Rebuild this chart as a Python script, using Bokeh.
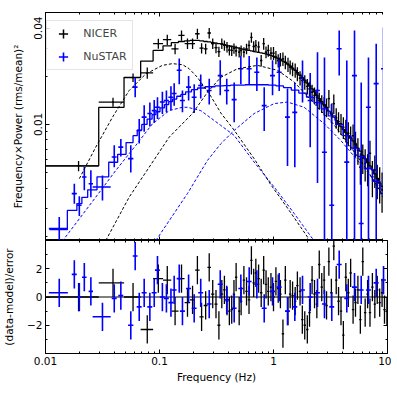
import numpy as np
from bokeh.plotting import figure
from bokeh.models import (Range1d, LogAxis, LinearAxis, FixedTicker, CustomJSTickFormatter,
                          Legend, LegendItem, Span)
from bokeh.layouts import column
from bokeh.embed import file_html
from bokeh.resources import INLINE

# ---------------- NICER (black) ----------------
nicer_f = [0.0195, 0.0391, 0.0586, 0.0781, 0.0977, 0.117, 0.137, 0.156, 0.176, 0.195,
           0.215, 0.234, 0.254, 0.273, 0.293, 0.313, 0.332, 0.352, 0.371, 0.391,
           0.41, 0.43, 0.45, 0.47, 0.50, 0.52, 0.55, 0.58, 0.61, 0.64,
           0.67, 0.70, 0.74, 0.78, 0.82, 0.86, 0.90, 0.95, 1.00, 1.05,
           1.10, 1.15, 1.21, 1.27, 1.34, 1.40, 1.47, 1.55, 1.62, 1.71,
           1.79, 1.88, 1.98, 2.07, 2.18, 2.29, 2.40, 2.52, 2.65, 2.78,
           2.92, 3.06, 3.22, 3.38, 3.55, 3.72, 3.91, 4.10, 4.31, 4.53,
           4.75, 4.99, 5.24, 5.50, 5.78, 6.07, 6.37, 6.69, 7.02, 7.37,
           7.74, 8.13, 8.54, 8.96, 9.41, 9.88]
nicer_xerr = [0.0098, 0.0098, 0.0098, 0.0098, 0.0098, 0.0098, 0.0098, 0.0098, 0.0098, 0.0098,
              0.0098, 0.0098, 0.0098, 0.0098, 0.0098, 0.0098, 0.0098, 0.0098, 0.0098, 0.0098,
              0.010, 0.010, 0.011, 0.011, 0.012, 0.012, 0.013, 0.014, 0.015, 0.015,
              0.016, 0.017, 0.018, 0.019, 0.020, 0.021, 0.022, 0.023, 0.024, 0.025,
              0.026, 0.028, 0.029, 0.030, 0.032, 0.034, 0.035, 0.037, 0.039, 0.041,
              0.043, 0.045, 0.048, 0.050, 0.052, 0.055, 0.058, 0.060, 0.064, 0.067,
              0.070, 0.073, 0.077, 0.081, 0.085, 0.089, 0.094, 0.098, 0.103, 0.109,
              0.114, 0.120, 0.126, 0.132, 0.139, 0.146, 0.153, 0.161, 0.168, 0.177,
              0.186, 0.195, 0.205, 0.215, 0.226, 0.237]
nicer_pow = [0.0055, 0.0138, 0.0196, 0.0210, 0.0320, 0.0339, 0.0297, 0.0360, 0.0320, 0.0320,
             0.0369, 0.0300, 0.0297, 0.0373, 0.0320, 0.0302, 0.0285, 0.0320, 0.0312, 0.0305,
             0.0292, 0.0290, 0.0299, 0.0288, 0.0283, 0.0290, 0.0283, 0.0297, 0.0312, 0.0350,
             0.0307, 0.0312, 0.0305, 0.0251, 0.0320, 0.0283, 0.0290, 0.0279, 0.0279, 0.0263,
             0.0251, 0.0255, 0.0257, 0.0245, 0.0237, 0.0228, 0.0222, 0.0218, 0.0207, 0.0195,
             0.0188, 0.0184, 0.0173, 0.0167, 0.0159, 0.0152, 0.0148, 0.0141, 0.0135, 0.0131,
             0.0128, 0.0145, 0.0118, 0.0135, 0.0110, 0.0104, 0.0101, 0.0096, 0.0092, 0.0088,
             0.0083, 0.0085, 0.0076, 0.0069, 0.0054, 0.0062, 0.0057, 0.0053, 0.0066, 0.0047,
             0.0052, 0.0045, 0.0043, 0.0039, 0.0035, 0.0030]
nicer_err = [0.0004, 0.0009, 0.0012, 0.0017, 0.0023, 0.0025, 0.0022, 0.0026, 0.0024, 0.0024,
             0.0027, 0.0022, 0.0022, 0.0028, 0.0024, 0.0023, 0.0021, 0.0024, 0.0023, 0.0023,
             0.0022, 0.0022, 0.0022, 0.0022, 0.0021, 0.0022, 0.0021, 0.0022, 0.0023, 0.0026,
             0.0024, 0.0025, 0.0025, 0.0021, 0.0027, 0.0024, 0.0025, 0.0025, 0.0026, 0.0025,
             0.0024, 0.0025, 0.0025, 0.0024, 0.0024, 0.0023, 0.0022, 0.0022, 0.0021, 0.0020,
             0.0020, 0.0019, 0.0019, 0.0018, 0.0018, 0.0018, 0.0017, 0.0017, 0.0017, 0.0017,
             0.0017, 0.0019, 0.0016, 0.0019, 0.0016, 0.0015, 0.0015, 0.0015, 0.0015, 0.0015,
             0.0014, 0.0015, 0.0014, 0.0013, 0.0012, 0.0013, 0.0013, 0.0012, 0.0013, 0.0012,
             0.0012, 0.0011, 0.0011, 0.0011, 0.0010, 0.0010]
nicer_model = [0.0055, 0.0128, 0.0197, 0.0249, 0.0290, 0.0310, 0.0325, 0.0330, 0.0333, 0.0335,
               0.0335, 0.0333, 0.0330, 0.0328, 0.0325, 0.0322, 0.0320, 0.0318, 0.0315, 0.0312,
               0.0310, 0.0307, 0.0305, 0.0302, 0.0300, 0.0297, 0.0295, 0.0292, 0.0290, 0.0288,
               0.0286, 0.0284, 0.0282, 0.0280, 0.0278, 0.0276, 0.0273, 0.0270, 0.0266, 0.0262,
               0.0258, 0.0254, 0.0249, 0.0244, 0.0238, 0.0232, 0.0225, 0.0218, 0.0211, 0.0203,
               0.0196, 0.0189, 0.0181, 0.0174, 0.0167, 0.0160, 0.0152, 0.0145, 0.0139, 0.0133,
               0.0127, 0.0121, 0.0116, 0.0111, 0.0106, 0.0101, 0.0097, 0.0093, 0.0089, 0.0085,
               0.0082, 0.0079, 0.0075, 0.0071, 0.0068, 0.0064, 0.0061, 0.0058, 0.0055, 0.0052,
               0.0049, 0.0046, 0.0043, 0.0041, 0.0038, 0.0036]
nicer_resid = [0.0, 1.0, 0.0, -2.3, 1.3, 1.2, -1.0, 1.3, -0.4, -0.2,
               1.9, -1.4, -0.6, 2.1, 0.2, -0.5, -2.0, 0.2, 0.5, -0.3,
               -1.0, -0.9, 0.2, 1.4, -1.0, -0.3, 1.2, 0.4, -0.2, 2.6,
               1.0, 1.7, 1.3, 0.3, 1.9, 0.9, 0.4, 0.7, 0.0, 1.1,
               0.6, 0.2, -2.6, 1.2, -1.0, 0.2, 0.1, -0.3, 0.8, 0.4,
               -1.6, -2.0, -2.3, -1.1, 1.2, 0.2, -0.5, 2.3, 0.7, 1.2,
               -0.6, 2.5, 0.3, 3.6, 1.2, -0.3, -1.0, -2.7, 1.4, 0.3,
               1.7, -0.9, -0.4, 0.5, -1.6, 2.5, -1.1, 0.2, -1.1, 0.7,
               -0.5, 0.5, -0.4, 0.3, -0.9, -1.0]

# NICER model components (dashed black)
nicer_lor1_f = [0.0198, 0.0276, 0.0387, 0.0542, 0.0759, 0.106, 0.130, 0.160, 0.182, 0.215,
                0.282, 0.345, 0.452, 0.677, 0.947, 1.327, 1.919, 2.20]
nicer_lor1_p = [0.00458, 0.00721, 0.0111, 0.0163, 0.0207, 0.0234, 0.0240, 0.0236, 0.0223, 0.0197,
                0.0150, 0.0118, 0.0092, 0.0061, 0.0042, 0.0030, 0.00205, 0.00178]
nicer_lor2_f = [0.0338, 0.0542, 0.0813, 0.1217, 0.1946, 0.2636, 0.345, 0.483, 0.724, 1.084,
                1.52, 1.988, 2.43, 3.34, 4.76, 6.67, 8.73, 10.0]
nicer_lor2_p = [0.00188, 0.00351, 0.00541, 0.00833, 0.0117, 0.0159, 0.0197, 0.0223, 0.0234, 0.0218,
                0.0184, 0.0150, 0.0128, 0.0101, 0.00721, 0.00516, 0.00377, 0.0031]

# ---------------- NuSTAR (blue) ----------------
nustar_f = [0.0132, 0.0179, 0.0198, 0.0219, 0.0250, 0.0316, 0.0401, 0.0458, 0.0560, 0.0612,
            0.0664, 0.0734, 0.0823, 0.0899, 0.0960, 0.106, 0.115, 0.126, 0.1345, 0.149,
            0.159, 0.180, 0.2015, 0.230, 0.273, 0.341, 0.389, 0.452, 0.517, 0.612,
            0.7145, 0.829, 0.981, 1.122, 1.327, 1.538, 1.797, 2.099, 2.432, 2.80,
            3.245, 3.77, 4.395, 5.136, 5.88, 6.81, 7.96, 9.23]
nustar_xerr = [0.0025, 0.0009, 0.0009, 0.0010, 0.0011, 0.0057, 0.0020, 0.0023, 0.0030, 0.0030,
               0.0033, 0.0037, 0.0041, 0.0045, 0.0048, 0.0053, 0.0058, 0.0063, 0.0067, 0.0074,
               0.0080, 0.0090, 0.0100, 0.0115, 0.0136, 0.017, 0.0195, 0.0226, 0.026, 0.031,
               0.036, 0.041, 0.049, 0.056, 0.066, 0.077, 0.090, 0.105, 0.120, 0.140,
               0.160, 0.190, 0.220, 0.260, 0.290, 0.340, 0.400, 0.460]
nustar_pow = [0.00223, 0.00369, 0.00312, 0.00469, 0.00426, 0.00406, 0.00625, 0.00721, 0.00611, 0.0171,
              0.00917, 0.0111, 0.0117, 0.0122, 0.0128, 0.0138, 0.0141, 0.0148, 0.0156, 0.0218,
              0.0141, 0.0171, 0.0148, 0.0175, 0.0163, 0.0202, 0.0163, 0.0143, 0.0223, 0.0223,
              0.0212, 0.0131, 0.0202, 0.0212, 0.0111, 0.0119, 0.0194, 0.0141, 0.0163, 0.0067,
              0.00312, 0.0297, 0.00581, 0.0202, 0.0024, 0.0128, 0.0180, 0.0223]
# lower / upper ends of the error bars (0.0005 = bar runs off the bottom of the panel)
nustar_lo = [0.00185, 0.00319, 0.00268, 0.00387, 0.00351, 0.00335, 0.0054, 0.0063, 0.0050, 0.0148,
             0.0076, 0.0090, 0.0097, 0.0102, 0.0108, 0.0116, 0.0119, 0.0123, 0.0131, 0.0178,
             0.0119, 0.0141, 0.0118, 0.0145, 0.0133, 0.0152, 0.0133, 0.0103, 0.0178, 0.0178,
             0.0162, 0.0091, 0.0152, 0.0162, 0.0055, 0.0054, 0.0137, 0.0072, 0.0043, 0.0005,
             0.0005, 0.0202, 0.0005, 0.0005, 0.0005, 0.0005, 0.0005, 0.0040]
nustar_hi = [0.00264, 0.00426, 0.00356, 0.00541, 0.00516, 0.00480, 0.0074, 0.0081, 0.0074, 0.0197,
             0.0108, 0.0132, 0.0137, 0.0142, 0.0148, 0.0160, 0.0163, 0.0173, 0.0181, 0.0258,
             0.0163, 0.0201, 0.0178, 0.0205, 0.0193, 0.0252, 0.0193, 0.0183, 0.0268, 0.0268,
             0.0262, 0.0171, 0.0252, 0.0262, 0.0168, 0.0182, 0.0251, 0.0210, 0.0283, 0.0262,
             0.0135, 0.0387, 0.0251, 0.0387, 0.0183, 0.0262, 0.0320, 0.0404]
nustar_model = [0.0022, 0.0029, 0.0032, 0.0035, 0.0039, 0.0047, 0.0058, 0.0065, 0.0077, 0.0085,
                0.0092, 0.0100, 0.0108, 0.0115, 0.0120, 0.0127, 0.0133, 0.0139, 0.0144, 0.0150,
                0.0154, 0.0160, 0.0165, 0.0169, 0.0172, 0.0174, 0.0175, 0.0176, 0.0176, 0.0177,
                0.0177, 0.0177, 0.0176, 0.0174, 0.0170, 0.0164, 0.0157, 0.0148, 0.0137, 0.0125,
                0.0113, 0.0100, 0.0085, 0.0071, 0.0063, 0.0053, 0.0044, 0.0037]
nustar_resid = [0.3, 1.6, 0.0, 1.4, 0.4, -1.4, -0.1, 0.1, -2.0, 2.9,
                -0.7, 0.3, -0.7, 0.3, 1.9, 0.0, -0.1, -0.4, 0.5, 1.3,
                -1.0, 0.6, -0.8, 0.3, -0.5, 0.9, -0.2, -0.8, 0.6, 1.1,
                0.9, -0.8, 0.4, 0.7, -1.0, -0.7, 0.5, 0.0, 0.3, -0.5,
                -0.7, 2.3, -0.1, 0.7, 0.5, 0.5, 1.0, 1.2]

# NuSTAR model components (dashed blue)
nustar_lor1_f = [0.0132, 0.01614, 0.0276, 0.0414, 0.0620, 0.0868, 0.1217, 0.1591, 0.1761, 0.2303,
                 0.345, 0.452, 0.677, 1.014, 1.52, 2.199, 2.35]
nustar_lor1_p = [0.00176, 0.00212, 0.00351, 0.00516, 0.0074, 0.0101, 0.0122, 0.0128, 0.0128, 0.0122,
                 0.00986, 0.00854, 0.00581, 0.00406, 0.00277, 0.00193, 0.0018]
nustar_lor2_f = [0.0929, 0.1761, 0.2636, 0.345, 0.452, 0.677, 1.014, 1.327, 1.858, 2.786,
                 3.89, 5.455, 7.64, 9.04, 10.0]
nustar_lor2_p = [0.00188, 0.0037, 0.00596, 0.00757, 0.00917, 0.0117, 0.0135, 0.0138, 0.0128, 0.0101,
                 0.00794, 0.00596, 0.00447, 0.00387, 0.0035]

# axis ticks
x_major = [0.01, 0.1, 1, 10]
x_minor = [k * d for d in (0.01, 0.1, 1) for k in range(2, 10)]
y_major = [0.01, 0.04]
y_minor = [0.002, 0.003, 0.004, 0.005, 0.006, 0.007, 0.008, 0.009, 0.02, 0.03, 0.05]
r_major = [-2, 0, 2]
r_minor = [-3, -1, 1, 3]

FONT = "DejaVu Sans"
FS = "10.5px"
BLACK = "black"
BLUE = "#0000ff"


def step_path(f, m):
    f = np.asarray(f, dtype=float)
    m = np.asarray(m, dtype=float)
    mids = (f[:-1] + f[1:]) / 2
    edges = np.concatenate([[f[0] - (f[1] - f[0]) / 2], mids, [f[-1] + (f[-1] - f[-2]) / 2]])
    xs = np.repeat(edges, 2)[1:-1]
    ys = np.repeat(m, 2)
    return xs, ys


blank_fmt = CustomJSTickFormatter(code="return '';")


def style_axis(ax, labels=True):
    ax.major_tick_in = 4
    ax.major_tick_out = 0
    ax.minor_tick_in = 2
    ax.minor_tick_out = 0
    ax.axis_line_color = BLACK
    ax.major_tick_line_color = BLACK
    ax.minor_tick_line_color = BLACK
    ax.major_label_text_font = FONT
    ax.major_label_text_font_size = FS
    ax.major_label_text_color = BLACK
    ax.axis_label_text_font = FONT
    ax.axis_label_text_font_size = FS
    ax.axis_label_text_font_style = "normal"
    ax.axis_label_text_color = BLACK
    ax.major_label_standoff = 3
    if not labels:
        ax.formatter = blank_fmt
        ax.major_label_text_font_size = "1px"
        ax.major_label_standoff = 0


xfmt = CustomJSTickFormatter(code="return tick >= 1 ? tick.toFixed(0) : tick.toString();")
yfmt = CustomJSTickFormatter(code="return tick.toFixed(2);")

x_range = Range1d(0.01, 10)

# ---------------- top panel ----------------
p1 = figure(x_axis_type="log", y_axis_type="log", x_range=x_range,
            y_range=Range1d(0.00188, 0.0501),
            frame_width=342, frame_height=228, output_backend="svg", toolbar_location=None,
            min_border_left=35, min_border_right=4, min_border_top=12, min_border_bottom=0)
p1.grid.grid_line_color = None
p1.outline_line_color = BLACK
p1.background_fill_color = "white"

p1.xaxis[0].ticker = FixedTicker(ticks=x_major, minor_ticks=x_minor)
style_axis(p1.xaxis[0], labels=False)
p1.yaxis[0].ticker = FixedTicker(ticks=y_major, minor_ticks=y_minor)
style_axis(p1.yaxis[0])
p1.yaxis[0].formatter = yfmt
p1.yaxis[0].major_label_orientation = "vertical"
p1.yaxis[0].axis_label = "Frequency×Power (rms/mean)²"
p1.yaxis[0].axis_label_standoff = 8

ax_top = LogAxis(ticker=FixedTicker(ticks=x_major, minor_ticks=x_minor))
style_axis(ax_top, labels=False)
p1.add_layout(ax_top, "above")
ax_right = LogAxis(ticker=FixedTicker(ticks=y_major, minor_ticks=y_minor))
style_axis(ax_right, labels=False)
p1.add_layout(ax_right, "right")

nf = np.array(nicer_f); npw = np.array(nicer_pow); ne = np.array(nicer_err); nxe = np.array(nicer_xerr)
uf = np.array(nustar_f); upw = np.array(nustar_pow); uxe = np.array(nustar_xerr)

# NICER data
p1.segment(nf, npw - ne, nf, npw + ne, line_color=BLACK, line_width=1.3)
p1.segment(nf - nxe, npw, nf + nxe, npw, line_color=BLACK, line_width=1.3)
nicer_pts = p1.scatter(nf, npw, marker="cross", size=1, line_color=BLACK, line_width=1.5)
# NuSTAR data
p1.segment(uf, np.array(nustar_lo), uf, np.array(nustar_hi), line_color=BLUE, line_width=1.6)
p1.segment(uf - uxe, upw, uf + uxe, upw, line_color=BLUE, line_width=1.6)
nustar_pts = p1.scatter(uf, upw, marker="cross", size=1, line_color=BLUE, line_width=1.6)

# models
sx, sy = step_path(nicer_f, nicer_model)
p1.line(sx, sy, line_color=BLACK, line_width=1.3)
sx, sy = step_path(nustar_f, nustar_model)
p1.line(sx, sy, line_color=BLUE, line_width=1.3)
p1.line(nicer_lor1_f, nicer_lor1_p, line_color=BLACK, line_width=1, line_dash="3 2")
p1.line(nicer_lor2_f, nicer_lor2_p, line_color=BLACK, line_width=1, line_dash="3 2")
p1.line(nustar_lor1_f, nustar_lor1_p, line_color=BLUE, line_width=1, line_dash="3 2")
p1.line(nustar_lor2_f, nustar_lor2_p, line_color=BLUE, line_width=1, line_dash="3 2")

legend = Legend(items=[LegendItem(label="NICER", renderers=[nicer_pts]),
                       LegendItem(label="NuSTAR", renderers=[nustar_pts])],
                location="top_left", margin=8, padding=1, spacing=-6,
                glyph_width=30, glyph_height=23, label_height=23, label_width=48,
                label_standoff=5, label_text_font=FONT, label_text_font_size="11px",
                border_line_color="#cccccc", border_line_width=1,
                background_fill_color="white", background_fill_alpha=0.8)
p1.add_layout(legend)

# ---------------- residual panel ----------------
p2 = figure(x_axis_type="log", x_range=x_range, y_range=Range1d(-4, 4),
            frame_width=342, frame_height=113, output_backend="svg", toolbar_location=None,
            min_border_left=35, min_border_right=4, min_border_top=0, min_border_bottom=2)
p2.grid.grid_line_color = None
p2.outline_line_color = BLACK
p2.background_fill_color = "white"

p2.xaxis[0].ticker = FixedTicker(ticks=x_major, minor_ticks=x_minor)
style_axis(p2.xaxis[0])
p2.xaxis[0].formatter = xfmt
p2.xaxis[0].axis_label = "Frequency (Hz)"
p2.xaxis[0].axis_label_standoff = 3
p2.yaxis[0].ticker = FixedTicker(ticks=r_major, minor_ticks=r_minor)
style_axis(p2.yaxis[0])
p2.yaxis[0].axis_label = "(data-model)/error"
p2.yaxis[0].axis_label_standoff = 9

ax_top2 = LogAxis(ticker=FixedTicker(ticks=x_major, minor_ticks=x_minor))
style_axis(ax_top2, labels=False)
p2.add_layout(ax_top2, "above")
ax_right2 = LinearAxis(ticker=FixedTicker(ticks=r_major, minor_ticks=r_minor))
style_axis(ax_right2, labels=False)
p2.add_layout(ax_right2, "right")

p2.add_layout(Span(location=0, dimension="width", line_color=BLACK, line_width=1, level="underlay"))

nr = np.array(nicer_resid); ur = np.array(nustar_resid)
p2.segment(nf, nr - 1, nf, nr + 1, line_color=BLACK, line_width=1.3)
p2.segment(nf - nxe, nr, nf + nxe, nr, line_color=BLACK, line_width=1.3)
p2.segment(uf, ur - 1, uf, ur + 1, line_color=BLUE, line_width=1.6)
p2.segment(uf - uxe, ur, uf + uxe, ur, line_color=BLUE, line_width=1.6)

layout = column(p1, p2, spacing=0)
open("out.html", "w").write(file_html(layout, INLINE, title="PDS"))
